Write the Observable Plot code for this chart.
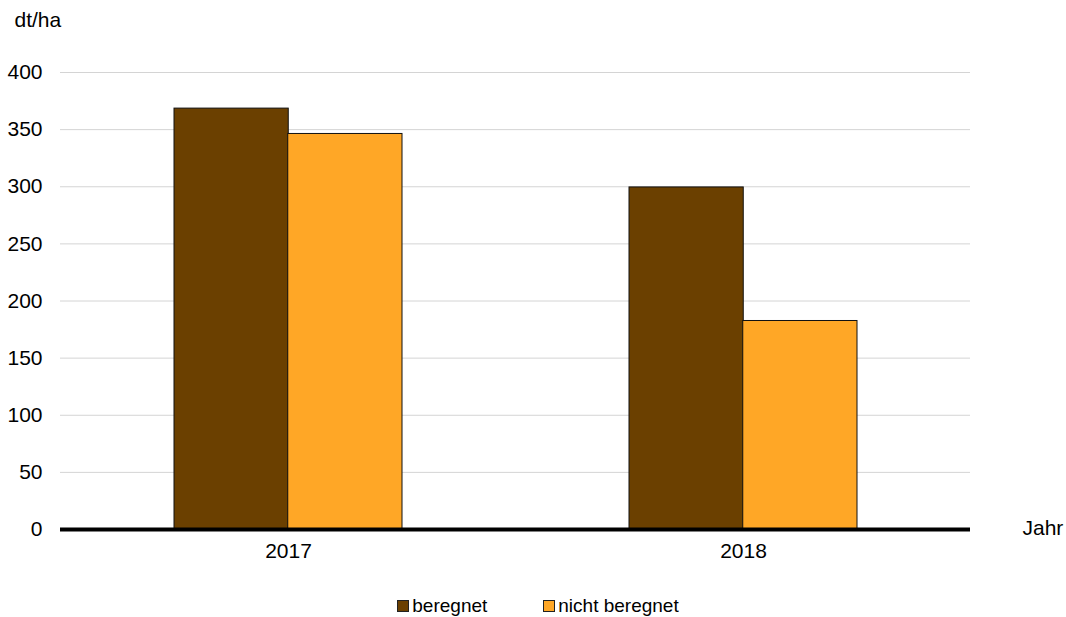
<!DOCTYPE html>
<html>
<head>
<meta charset="utf-8">
<script src="https://cdn.jsdelivr.net/npm/d3@7"></script>
<script src="https://cdn.jsdelivr.net/npm/@observablehq/plot@0.6"></script>
<style>
  body { margin: 0; background: #fff; font-family: "Liberation Sans", Arial, sans-serif; }
  #legend { display: flex; justify-content: center; gap: 56px; margin-top: 16px; height: 20px;
            font-size: 19px; line-height: 20px; color: #000; padding-left: 10px; }
  #legend .item { display: flex; align-items: center; }
  #legend .sw { width: 10px; height: 10px; border: 1px solid #222; margin-right: 3px; }
</style>
</head>
<body>
<div id="chart"></div>
<div id="legend"></div>
<script>
const years = ["2017", "2018"];
const series = ["beregnet", "nicht beregnet"];
const beregnet = [368.4, 299.4];
const nichtBeregnet = [346.2, 182.5];
const colors = ["#6B4000", "#FFA726"];
const yTicks = [0, 50, 100, 150, 200, 250, 300, 350, 400];

const data = [];
years.forEach((y, i) => {
  data.push({year: y, series: series[0], value: beregnet[i]});
  data.push({year: y, series: series[1], value: nichtBeregnet[i]});
});

const W = 1066, H = 580, ML = 60, MR = 96;
const step = (W - ML - MR) / 2;
const half = step / 2 / 2;
const FS = 21;

const plot = Plot.plot({
  width: W,
  height: H,
  marginLeft: ML,
  marginRight: MR,
  marginTop: 72,
  marginBottom: 51,
  style: {fontFamily: "Liberation Sans, Arial, sans-serif", fontSize: FS + "px", color: "#000"},
  x: {domain: years, paddingInner: 0.5, paddingOuter: 0.25, label: null},
  y: {domain: [0, 400], label: null},
  color: {domain: series, range: colors},
  marks: [
    Plot.gridY(yTicks, {stroke: "#d4d4d4", strokeOpacity: 1, strokeWidth: 1}),
    Plot.axisY(yTicks, {tickSize: 0, tickPadding: 18, label: null, fontSize: FS}),
    Plot.axisX({tickSize: 0, tickPadding: 14, label: null, fontSize: FS}),
    Plot.barY(data.filter(d => d.series === series[0]), {x: "year", y: "value", fill: "series", stroke: "#111", strokeWidth: 1, insetRight: half}),
    Plot.barY(data.filter(d => d.series === series[1]), {x: "year", y: "value", fill: "series", stroke: "#111", strokeWidth: 1, insetLeft: half}),
    Plot.ruleY([0], {stroke: "#000", strokeWidth: 4}),
    Plot.text(["dt/ha"], {frameAnchor: "top-left", dx: -46, dy: -52, textAnchor: "start", lineAnchor: "middle", fontSize: FS}),
    Plot.text(["Jahr"], {frameAnchor: "bottom-right", dx: 52, dy: -1, textAnchor: "start", lineAnchor: "middle", fontSize: FS})
  ]
});
document.getElementById("chart").appendChild(plot);

const legend = document.getElementById("legend");
series.forEach((s, i) => {
  const item = document.createElement("div");
  item.className = "item";
  const sw = document.createElement("div");
  sw.className = "sw";
  sw.style.background = colors[i];
  const t = document.createElement("span");
  t.textContent = s;
  item.appendChild(sw);
  item.appendChild(t);
  legend.appendChild(item);
});
</script>
</body>
</html>
